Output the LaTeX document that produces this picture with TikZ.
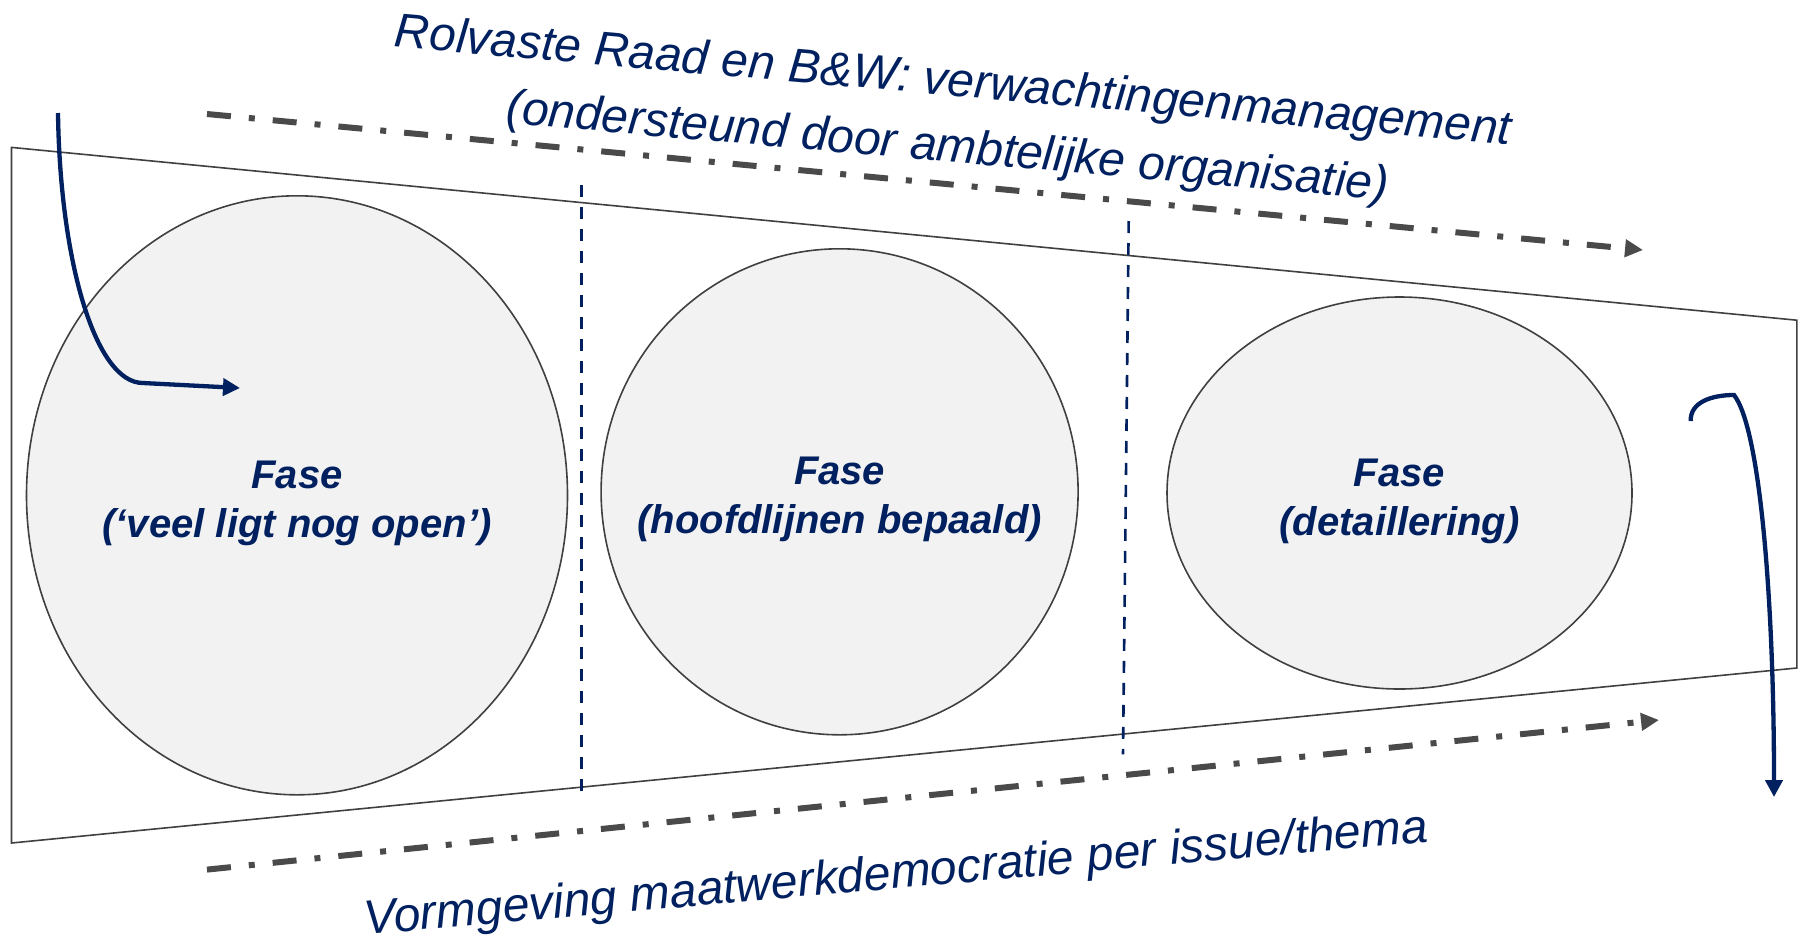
\documentclass[tikz,border=0pt]{standalone}
\usepackage{fontspec}
\setmainfont{Liberation Sans}
\usetikzlibrary{arrows.meta,shapes.geometric}
\definecolor{navy}{HTML}{002060}
\definecolor{dgray}{HTML}{4A4A4A}
\definecolor{edge}{HTML}{404040}
\definecolor{fillg}{HTML}{F2F2F2}
\tikzset{
  phase/.style={ellipse, draw=edge, line width=1.6pt, fill=fillg, inner sep=0pt, outer sep=0pt},
  phaselabel/.style={text=navy, align=center, inner sep=0pt,
    font=\fontsize{40}{49}\selectfont\bfseries\itshape},
  frameline/.style={draw=edge, line width=1.6pt},
  divider/.style={draw=navy, line width=2.6pt, dash pattern=on 12pt off 10pt},
  dashdot/.style={draw=dgray, line width=6pt, dash pattern=on 24pt off 18pt on 6pt off 18pt,
    -{Triangle[length=18pt,width=17pt]}},
  flow/.style={draw=navy, line width=4.3pt, -{Triangle[length=17pt,width=17pt]}},
  caption/.style={text=navy, align=center, font=\fontsize{48}{66}\selectfont\itshape, inner sep=0pt}
}
\begin{document}
\begin{tikzpicture}[x=1pt,y=-1pt]
\useasboundingbox (0,0) rectangle (1806,943);
% frame
\coordinate (tl) at (11.5,147.4);
\coordinate (tr) at (1796.8,320.2);
\coordinate (br) at (1796.8,668);
\coordinate (bl) at (11.5,843);
\draw[frameline] (tl) -- (tr) -- (br) -- (bl) -- cycle;
% phases
\node[phase, minimum width=541pt, minimum height=599pt] (e1) at (297,495.3) {};
\node[phase, minimum width=477pt, minimum height=486pt] (e2) at (839.6,491.8) {};
\node[phase, minimum width=465pt, minimum height=392pt] (e3) at (1399.5,493) {};
\node[phaselabel, yshift=-8pt] (l1) at (e1.center) {Fase\\(‘veel ligt nog open’)};
\node[phaselabel, yshift=-8pt] (l2) at (e2.center) {Fase\\(hoofdlijnen bepaald)};
\node[phaselabel, yshift=-8pt] (l3) at (e3.center) {Fase\\(detaillering)};
% dividers
\coordinate (d1a) at (581.6,185);
\coordinate (d1b) at (581.6,800);
\coordinate (d2a) at (1128.7,221);
\coordinate (d2b) at (1123,754.4);
\draw[divider] (d1a) -- (d1b);
\draw[divider] (d2a) -- (d2b);
% dash-dot arrows
\coordinate (ta) at (207,114);
\coordinate (tb) at (1643,250);
\coordinate (ba) at (207,869.6);
\coordinate (bb) at (1659,720);
\draw[dashdot] (ta) -- (tb);
\draw[dashdot] (ba) -- (bb);
% navy flow arrows
\coordinate (la) at (58,113);
\coordinate (lb) at (143,383);
\coordinate (lc) at (240,388);
\draw[flow] (la) .. controls (60,260) and (95,383) .. (lb) -- (lc);
\coordinate (ra) at (1690.7,421);
\coordinate (rb) at (1734,395);
\coordinate (rc) at (1774,797);
\draw[flow] (ra) .. controls (1690,402) and (1712,395) .. (rb) .. controls (1760,428) and (1774,600) .. (rc);
% captions
\node[caption, rotate=-5] (top) at (950.3,116.3) {Rolvaste Raad en B\&W: verwachtingenmanagement\\(ondersteund door ambtelijke organisatie)};
\node[caption, rotate=5] (bot) at (896,876) {Vormgeving maatwerkdemocratie per issue/thema};
\end{tikzpicture}
\end{document}
